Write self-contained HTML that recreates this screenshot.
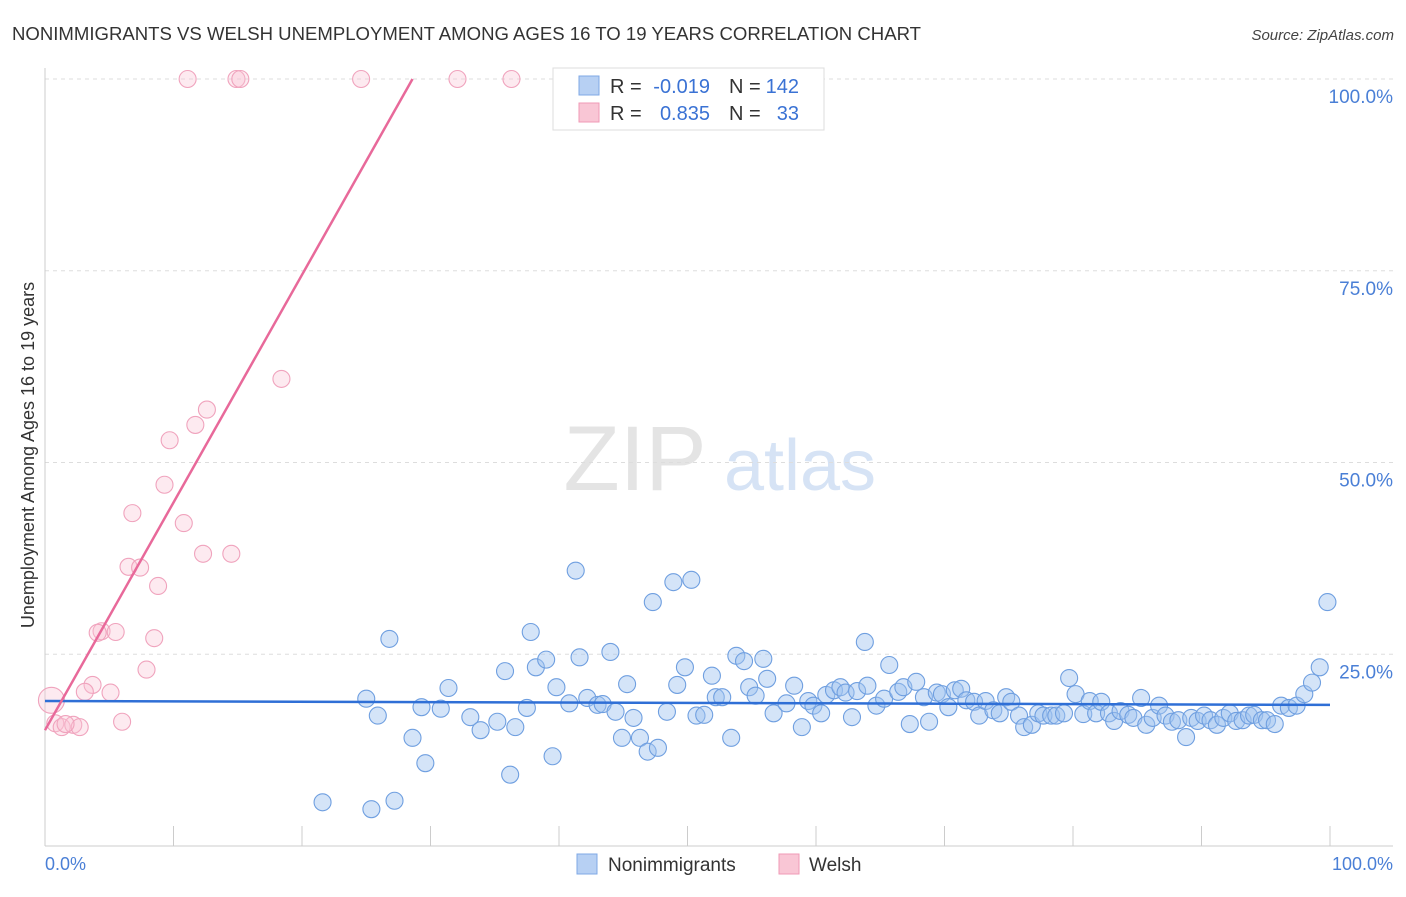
<!DOCTYPE html>
<html><head><meta charset="utf-8"><style>
body{margin:0;background:#fff;font-family:"Liberation Sans",sans-serif}
svg text{font-family:"Liberation Sans",sans-serif}
</style></head><body>
<svg id="chart" width="1406" height="892" xmlns="http://www.w3.org/2000/svg">
<text x="12" y="40" font-size="18" fill="#333" textLength="909" lengthAdjust="spacingAndGlyphs">NONIMMIGRANTS VS WELSH UNEMPLOYMENT AMONG AGES 16 TO 19 YEARS CORRELATION CHART</text>
<text x="1394" y="40" font-size="15" fill="#444" text-anchor="end" font-style="italic">Source: ZipAtlas.com</text>
<g>
<text x="635" y="490" font-size="92" fill="#e4e4e4" text-anchor="middle" font-family="Liberation Serif, serif">ZIP</text>
<text x="800" y="490" font-size="72" fill="#d6e3f5" text-anchor="middle">atlas</text></g>
<g id="grid"></g><g id="axes"></g><g id="marks"></g>
<text transform="translate(34,455) rotate(-90)" font-size="18" fill="#333" text-anchor="middle">Unemployment Among Ages 16 to 19 years</text>
<text x="45" y="870" font-size="18" fill="#4a7fd6">0.0%</text>
<text x="1393" y="870" font-size="18" fill="#4a7fd6" text-anchor="end">100.0%</text>
<g>
<rect x="553" y="68" width="271" height="62" fill="#fff" stroke="#ddd"/>
<rect x="579" y="76" width="20" height="19" fill="#b7d0f3" stroke="#7fa8e6"/>
<rect x="579" y="103" width="20" height="19" fill="#f9c6d5" stroke="#f09ab6"/>
<text x="610" y="93" font-size="20" fill="#333">R =</text>
<text x="710" y="93" font-size="20" fill="#3a72d4" text-anchor="end">-0.019</text>
<text x="729" y="93" font-size="20" fill="#333">N =</text>
<text x="799" y="93" font-size="20" fill="#3a72d4" text-anchor="end">142</text>
<text x="610" y="120" font-size="20" fill="#333">R =</text>
<text x="710" y="120" font-size="20" fill="#3a72d4" text-anchor="end">0.835</text>
<text x="729" y="120" font-size="20" fill="#333">N =</text>
<text x="799" y="120" font-size="20" fill="#3a72d4" text-anchor="end">33</text>
</g>
<g>
<rect x="577" y="854" width="20" height="20" fill="#b7d0f3" stroke="#7fa8e6"/>
<text x="608" y="871" font-size="19" fill="#333">Nonimmigrants</text>
<rect x="779" y="854" width="20" height="20" fill="#f9c6d5" stroke="#f09ab6"/>
<text x="809" y="871" font-size="19" fill="#333">Welsh</text></g>
</svg>
<script>
const yTicks=[25,50,75,100];
const yTickLabels=["25.0%","50.0%","75.0%","100.0%"];
const xTicks=[0,10,20,30,40,50,60,70,80,90,100];
const blueX=[21.6,25.4,27.2,25.0,26.8,25.9,28.6,29.6,29.3,30.8,31.4,33.1,33.9,35.2,35.8,36.2,36.6,37.5,37.8,38.2,39.0,39.5,39.8,40.8,41.3,41.6,42.2,43.0,43.4,44.0,44.4,44.9,45.3,45.8,46.3,46.9,47.3,47.7,48.4,48.9,49.2,49.8,50.3,50.7,51.3,51.9,52.2,52.7,53.4,53.8,54.4,54.8,55.3,55.9,56.2,56.7,57.7,58.3,58.9,59.4,59.8,60.4,60.8,61.4,61.9,62.3,62.8,63.2,63.8,64.0,64.7,65.3,65.7,66.4,66.8,67.3,67.8,68.4,68.8,69.4,69.8,70.3,70.8,71.3,71.7,72.3,72.7,73.2,73.8,74.3,74.8,75.2,75.8,76.2,76.8,77.3,77.7,78.3,78.7,79.3,79.7,80.2,80.8,81.3,81.8,82.2,82.8,83.2,83.7,84.3,84.7,85.3,85.7,86.2,86.7,87.2,87.7,88.2,88.8,89.2,89.7,90.2,90.7,91.2,91.7,92.2,92.7,93.2,93.7,94.1,94.7,95.1,95.7,96.2,96.8,97.4,98.0,98.6,99.2,99.8];
const blueY=[5.7,4.8,5.9,19.2,27.0,17.0,14.1,10.8,18.1,17.9,20.6,16.8,15.1,16.2,22.8,9.3,15.5,18.0,27.9,23.3,24.3,11.7,20.7,18.6,35.9,24.6,19.3,18.4,18.5,25.3,17.5,14.1,21.1,16.7,14.1,12.3,31.8,12.8,17.5,34.4,21.0,23.3,34.7,17.0,17.1,22.2,19.4,19.4,14.1,24.8,24.1,20.7,19.6,24.4,21.8,17.3,18.6,20.9,15.5,18.9,18.3,17.3,19.7,20.3,20.7,20.0,16.8,20.2,26.6,20.9,18.3,19.2,23.6,20.1,20.7,15.9,21.4,19.4,16.2,20.0,19.8,18.1,20.3,20.5,19.0,18.8,17.0,18.9,17.7,17.3,19.4,18.8,17.0,15.5,15.8,17.3,17.0,17.0,17.0,17.3,21.9,19.8,17.2,18.9,17.3,18.8,17.3,16.3,17.6,17.1,16.7,19.3,15.8,16.7,18.3,17.0,16.2,16.4,14.2,16.7,16.3,17.0,16.4,15.8,16.7,17.3,16.3,16.4,17.0,17.1,16.4,16.4,15.9,18.3,18.0,18.3,19.8,21.3,23.3,31.8];
const pinkX=[11.1,14.9,15.2,24.6,32.1,36.3,18.4,12.6,11.7,9.7,9.3,6.8,10.8,12.3,14.5,6.5,7.4,8.8,4.4,5.5,8.5,4.1,7.9,3.7,3.1,5.1,6.0,0.5,0.8,1.3,2.2,2.7,1.6];
const pinkY=[100,100,100,100,100,100,60.9,56.9,54.9,52.9,47.1,43.4,42.1,38.1,38.1,36.4,36.3,33.9,28.0,27.9,27.1,27.8,23.0,21.0,20.1,20.0,16.2,19.0,16.0,15.5,15.8,15.5,15.9];
const blueLine=[[0,18.9],[100,18.4]];
const pinkLine=[[0,15.1],[28.6,100]];
const NS="http://www.w3.org/2000/svg";
const X=v=>45+v*12.85, Y=v=>846-v*7.67;
function mk(t,a,p){const e=document.createElementNS(NS,t);for(const k in a)e.setAttribute(k,a[k]);p.appendChild(e);return e;}
const grid=document.getElementById('grid'),axes=document.getElementById('axes'),marks=document.getElementById('marks');
yTicks.forEach((t,i)=>{
 const l=mk('line',{x1:45,x2:1393,y1:Y(t),y2:Y(t),stroke:'#ddd','stroke-dasharray':'4,4'},grid);
 
 
 const tx=mk('text',{x:1393,y:Y(t)+24,'font-size':19,fill:'#4a7fd6','text-anchor':'end'},axes);
 tx.textContent=yTickLabels[i];
 
 
});
const xa=mk('line',{x1:45,x2:1393,y1:846,y2:846,stroke:'#ccc'},axes);


const ya=mk('line',{x1:45,x2:45,y1:68,y2:846,stroke:'#ccc'},axes);


xTicks.forEach(t=>{
 const l=mk('line',{x1:X(t),x2:X(t),y1:826,y2:846,stroke:'#ccc'},axes);
 
 
});
blueX.forEach((v,i)=>{
 const c=mk('circle',{cx:X(v),cy:Y(blueY[i]),r:8.5,fill:'rgba(160,195,240,0.45)',stroke:'#6f9fe0','stroke-width':1.1},marks);
 
 
});
pinkX.forEach((v,i)=>{
 const c=mk('circle',{cx:X(v),cy:Y(pinkY[i]),r:i==27?13:8.5,fill:'rgba(250,195,212,0.35)',stroke:'#f0a3bd','stroke-width':1.1},marks);
 
 
});
const bl=mk('line',{x1:X(blueLine[0][0]),y1:Y(blueLine[0][1]),x2:X(blueLine[1][0]),y2:Y(blueLine[1][1]),stroke:'#2f6fd6','stroke-width':2.5},marks);


const pl=mk('line',{x1:X(pinkLine[0][0]),y1:Y(pinkLine[0][1]),x2:X(pinkLine[1][0]),y2:Y(pinkLine[1][1]),stroke:'#e8699a','stroke-width':2.5},marks);


</script>
</body></html>
